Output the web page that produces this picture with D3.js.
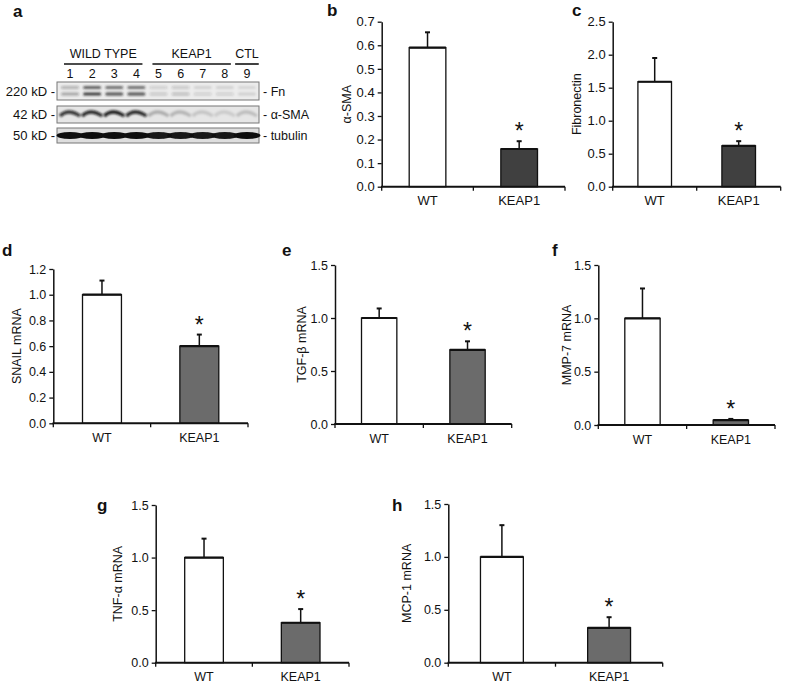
<!DOCTYPE html>
<html><head><meta charset="utf-8">
<script src="https://cdn.jsdelivr.net/npm/d3@7"></script>
<style>
html,body{margin:0;padding:0;background:#fff;}
svg text{font-family:"Liberation Sans",Arial,sans-serif;fill:#111;}
</style></head>
<body><svg id="chart" width="787" height="683"></svg>
<script>
// ---------------- DATA ----------------
const categories = ["WT", "KEAP1"];

const asmaValues = [0.59, 0.16];
const asmaErrors = [0.065, 0.033];
const asmaTicks = [0, 0.1, 0.2, 0.3, 0.4, 0.5, 0.6, 0.7];

const fibronectinValues = [1.59, 0.62];
const fibronectinErrors = [0.36, 0.07];
const fibronectinTicks = [0, 0.5, 1.0, 1.5, 2.0, 2.5];

const snailValues = [1.0, 0.60];
const snailErrors = [0.11, 0.09];
const snailTicks = [0, 0.2, 0.4, 0.6, 0.8, 1.0, 1.2];

const tgfbValues = [1.0, 0.70];
const tgfbErrors = [0.09, 0.08];
const mmp7Values = [1.0, 0.045];
const mmp7Errors = [0.28, 0.012];
const tnfaValues = [1.0, 0.38];
const tnfaErrors = [0.18, 0.13];
const mcp1Values = [1.0, 0.33];
const mcp1Errors = [0.30, 0.10];
const mrnaTicks = [0, 0.5, 1.0, 1.5];

// western blot (panel a)
const laneLabels = ["1","2","3","4","5","6","7","8","9"];
const groupLabels = ["WILD TYPE", "KEAP1", "CTL"];
const groupFirstLane = ["1", "5", "9"];
const groupLastLane = ["4", "8", "9"];
const markerLabels = ["220 kD -", "42 kD -", "50 kD -"];
const proteinLabels = ["- Fn", "- \u03b1-SMA", "- tubulin"];
const fnIntensity = [0.35, 0.85, 0.75, 0.75, 0.18, 0.22, 0.14, 0.14, 0.12];
const asmaIntensity = [0.85, 0.9, 0.95, 0.9, 0.25, 0.22, 0.15, 0.12, 0.18];
const tubulinIntensity = [1, 1, 1, 1, 0.95, 0.95, 0.95, 0.95, 1];

// ---------------- DRAW ----------------
const svg = d3.select("#chart");
const defs = svg.append("defs");
defs.append("filter").attr("id","blur").attr("x","-50%").attr("y","-100%").attr("width","200%").attr("height","300%")
  .append("feGaussianBlur").attr("stdDeviation", 1.1);
defs.append("filter").attr("id","blur2").attr("x","-50%").attr("y","-100%").attr("width","200%").attr("height","300%")
  .append("feGaussianBlur").attr("stdDeviation", 0.7);

// ---- panel a ----
(function drawBlot(){
  const g = svg.append("g");
  g.append("text").attr("x", 13).attr("y", 17).attr("font-size", 17).attr("font-weight", "bold").text("a");
  const lane = d3.scaleBand().domain(laneLabels).range([59, 258]);
  const bw = lane.bandwidth();
  const cx = d => lane(d) + bw / 2;

  groupLabels.forEach((lab, i) => {
    const a = lane(groupFirstLane[i]), b = lane(groupLastLane[i]) + bw;
    const t = g.append("text").attr("x", (a + b) / 2).attr("y", 58).attr("text-anchor", "middle")
      .attr("font-size", 12.5).text(lab);
    const tw = t.node().getComputedTextLength();
    const x1 = Math.min(a + 5, (a + b) / 2 - tw / 2), x2 = Math.max(b - 5, (a + b) / 2 + tw / 2);
    g.append("line").attr("x1", x1).attr("x2", x2).attr("y1", 64).attr("y2", 64)
      .attr("stroke", "#111").attr("stroke-width", 1.6);
  });
  g.selectAll(".ln").data(laneLabels).enter().append("text")
    .attr("x", d => cx(d)).attr("y", 78).attr("text-anchor", "middle").attr("font-size", 12.5).text(d => d);

  const strips = [{y0: 82, y1: 100, fill: "#ececec"}, {y0: 106, y1: 123, fill: "#e6e6e6"}, {y0: 128, y1: 143, fill: "#dedede"}];
  strips.forEach((s, i) => {
    g.append("rect").attr("x", 57).attr("y", s.y0).attr("width", 202).attr("height", s.y1 - s.y0)
      .attr("fill", s.fill).attr("stroke", "#777").attr("stroke-width", 1);
    g.append("text").attr("x", 55).attr("y", (s.y0 + s.y1) / 2 + 4.5).attr("text-anchor", "end")
      .attr("font-size", 13).text(markerLabels[i]);
    g.append("text").attr("x", 263).attr("y", (s.y0 + s.y1) / 2 + 4.5)
      .attr("font-size", 12.5).text(proteinLabels[i]);
  });
  // Fn double bands
  const fn = g.append("g").attr("filter", "url(#blur)");
  laneLabels.forEach((d, i) => {
    [-3.5, 3].forEach((dy, k) => {
      fn.append("rect").attr("x", cx(d) - 9).attr("y", 91 + dy - 1.6).attr("width", 18).attr("height", 3.2)
        .attr("rx", 1.5).attr("fill", "#222").attr("opacity", fnIntensity[i] * (k === 0 ? 0.8 : 1));
    });
  });
  // alpha-SMA arcs
  const sm = g.append("g").attr("filter", "url(#blur)");
  laneLabels.forEach((d, i) => {
    const x = cx(d);
    sm.append("path").attr("d", `M${x - 10},${116} Q${x - 2},${108} ${x + 10},${116}`)
      .attr("fill", "none").attr("stroke", "#111").attr("stroke-width", 3.2)
      .attr("opacity", asmaIntensity[i]);
  });
  // tubulin
  const tb = g.append("g").attr("filter", "url(#blur2)");
  laneLabels.forEach((d, i) => {
    tb.append("ellipse").attr("cx", cx(d)).attr("cy", 135.5).attr("rx", 13.5).attr("ry", 3.4)
      .attr("fill", "#0a0a0a").attr("opacity", tubulinIntensity[i]);
  });
})();

// ---- bar panels ----
const panels = [
  {letter: "b", lx: 327, ly: 16, label: "\u03b1-SMA", labx: 347, values: asmaValues, errors: asmaErrors, ticks: asmaTicks,
   x0: 381.7, x1: 565, yTop: 21.7, yBot: 186.7, fill: "#404040", fs: 13},
  {letter: "c", lx: 572, ly: 16, label: "Fibronectin", labx: 577, values: fibronectinValues, errors: fibronectinErrors, ticks: fibronectinTicks,
   x0: 612.7, x1: 780.7, yTop: 21.7, yBot: 186.7, fill: "#404040", fs: 13},
  {letter: "d", lx: 2, ly: 256, label: "SNAIL mRNA", labx: 17, values: snailValues, errors: snailErrors, ticks: snailTicks,
   x0: 53.3, x1: 248, yTop: 269, yBot: 423.3, fill: "#6b6b6b", fs: 12.5},
  {letter: "e", lx: 282, ly: 256, label: "TGF-\u03b2 mRNA", labx: 302, values: tgfbValues, errors: tgfbErrors, ticks: mrnaTicks,
   x0: 335, x1: 511.7, yTop: 265, yBot: 424, fill: "#6b6b6b", fs: 12.5},
  {letter: "f", lx: 552, ly: 256, label: "MMP-7 mRNA", labx: 567, values: mmp7Values, errors: mmp7Errors, ticks: mrnaTicks,
   x0: 598.3, x1: 775, yTop: 265, yBot: 425, fill: "#6b6b6b", fs: 12.5},
  {letter: "g", lx: 97, ly: 511, label: "TNF-\u03b1 mRNA", labx: 118, values: tnfaValues, errors: tnfaErrors, ticks: mrnaTicks,
   x0: 155.7, x1: 349, yTop: 505, yBot: 662.7, fill: "#6b6b6b", fs: 12.5},
  {letter: "h", lx: 392, ly: 511, label: "MCP-1 mRNA", labx: 407, values: mcp1Values, errors: mcp1Errors, ticks: mrnaTicks,
   x0: 448.3, x1: 662.7, yTop: 504, yBot: 662.7, fill: "#6b6b6b", fs: 12.5}
];

panels.forEach(p => {
  const g = svg.append("g");
  const y = d3.scaleLinear().domain([0, d3.max(p.ticks)]).range([p.yBot, p.yTop]);
  const x = d3.scaleBand().domain(categories).range([p.x0, p.x1]).padding(0);
  const bw = x.bandwidth();
  const barW = bw * 0.4;

  g.append("text").attr("x", p.lx).attr("y", p.ly).attr("font-size", 17).attr("font-weight", "bold").text(p.letter);

  // y axis
  const ya = g.append("g").attr("transform", `translate(${p.x0},0)`)
    .call(d3.axisLeft(y).tickValues(p.ticks).tickFormat(d3.format(".1f")).tickSize(4).tickSizeOuter(0).tickPadding(3));
  ya.select(".domain").attr("stroke", "#111").attr("stroke-width", 1.5);
  ya.selectAll(".tick line").attr("stroke", "#111").attr("stroke-width", 1.3);
  ya.selectAll(".tick text").attr("font-size", p.fs).attr("font-family", "Liberation Sans, Arial, sans-serif").attr("fill", "#111");

  // y label
  g.append("text").attr("transform", `translate(${p.labx},${(p.yTop + p.yBot) / 2}) rotate(-90)`)
    .attr("text-anchor", "middle").attr("dominant-baseline", "central").attr("font-size", 12.5).text(p.label);

  // bars
  categories.forEach((c, i) => {
    const bx = x(c) + (bw - barW) / 2;
    const v = p.values[i], e = p.errors[i];
    const cxp = x(c) + bw / 2;
    // error bar
    g.append("line").attr("x1", cxp).attr("x2", cxp).attr("y1", y(v)).attr("y2", y(v + e))
      .attr("stroke", "#111").attr("stroke-width", 1.5);
    g.append("line").attr("x1", cxp - 2.5).attr("x2", cxp + 2.5).attr("y1", y(v + e)).attr("y2", y(v + e))
      .attr("stroke", "#111").attr("stroke-width", 2);
    g.append("rect").attr("x", bx).attr("y", y(v)).attr("width", barW).attr("height", y(0) - y(v))
      .attr("fill", i === 0 ? "#fff" : p.fill).attr("stroke", "#111").attr("stroke-width", 1.3);
    g.append("line").attr("x1", bx).attr("x2", bx + barW).attr("y1", y(v)).attr("y2", y(v))
      .attr("stroke", "#111").attr("stroke-width", 2.2);
    if (i === 1) {
      g.append("text").attr("x", cxp).attr("y", y(v + e) - 2).attr("text-anchor", "middle")
        .attr("font-size", 23).text("*");
    }
    g.append("text").attr("x", cxp).attr("y", p.yBot + 18.5).attr("text-anchor", "middle")
      .attr("font-size", p.fs).text(c);
  });

  // x axis
  g.append("line").attr("x1", p.x0 - 0.75).attr("x2", p.x1).attr("y1", p.yBot).attr("y2", p.yBot)
    .attr("stroke", "#111").attr("stroke-width", 2);
  const bounds = [p.x0].concat(categories.map(c => x(c) + bw));
  g.selectAll(".xt").data(bounds).enter().append("line")
    .attr("x1", d => d).attr("x2", d => d).attr("y1", p.yBot).attr("y2", p.yBot + 4)
    .attr("stroke", "#111").attr("stroke-width", 1.3);
});
</script></body></html>
